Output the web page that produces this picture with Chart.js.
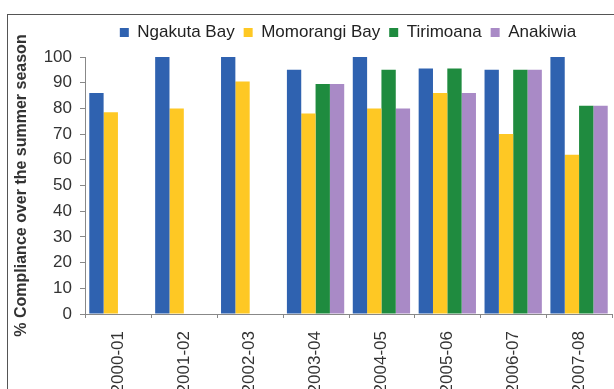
<!DOCTYPE html>
<html>
<head>
<meta charset="utf-8">
<script src="https://cdn.jsdelivr.net/npm/chart.js@4/dist/chart.umd.min.js"></script>
<style>
    html, body { margin: 0; padding: 0; background: #fff; overflow: hidden; width: 614px; height: 389px; }
    .frame { position: absolute; left: 7px; top: 14px; width: 680px; height: 420px; border: 1px solid #555; }
</style>
</head>
<body>
<div class="frame"><canvas id="chart" width="680" height="420"></canvas></div>
<script>
// seizoenen en de compliance-percentages per locatie
const seasons = ['2000-01', '2001-02', '2002-03', '2003-04', '2004-05', '2005-06', '2006-07', '2007-08'];
const ngakutaBay = [86, 100, 100, 95, 100, 95.5, 95, 100];
const momorangiBay = [78.5, 80, 90.5, 78, 80, 86, 70, 62];
const tirimoana = [null, null, null, 89.5, 95, 95.5, 95, 81];
const anakiwia = [null, null, null, 89.5, 80, 86, 95, 81];
const yTicks = [0, 10, 20, 30, 40, 50, 60, 70, 80, 90, 100];

const ctx = document.getElementById('chart');

// legend een vaste hoogte geven zodat het plotgebied op de goede plek begint
const legendHeight = {
    id: 'legendHeight',
    afterInit(chart) {
        const fit = chart.legend.fit;
        chart.legend.fit = function () {
            fit.call(this);
            this.height = 42;
        };
    }
};

// kleine streepjes op de x-as tussen de seizoenen
const categoryTicks = {
    id: 'categoryTicks',
    afterDraw(chart) {
        const x = chart.scales.x;
        const c = chart.ctx;
        const marks = [x.left];
        for (let i = 0; i < seasons.length - 1; i++) {
            marks.push((x.getPixelForTick(i) + x.getPixelForTick(i + 1)) / 2);
        }
        marks.push(x.right);
        c.save();
        c.strokeStyle = '#888';
        c.lineWidth = 1;
        c.beginPath();
        marks.forEach(m => {
            const px = Math.round(m) + 0.5;
            c.moveTo(px, x.top);
            c.lineTo(px, x.top + 4);
        });
        c.stroke();
        c.restore();
    }
};

new Chart(ctx, {
    type: 'bar',
    data: {
        labels: seasons,
        datasets: [
            { label: 'Ngakuta Bay', data: ngakutaBay, backgroundColor: '#2f62b0' },
            { label: 'Momorangi Bay', data: momorangiBay, backgroundColor: '#fec824' },
            { label: 'Tirimoana', data: tirimoana, backgroundColor: '#1f8b3f' },
            { label: 'Anakiwia', data: anakiwia, backgroundColor: '#a98ac6' }
        ]
    },
    options: {
        responsive: false,
        animation: false,
        categoryPercentage: 0.87,
        barPercentage: 1.0,
        layout: { padding: 0 },
        plugins: {
            legend: {
                position: 'top',
                labels: {
                    boxWidth: 9,
                    boxHeight: 9,
                    padding: 9,
                    color: '#222',
                    font: { family: 'Liberation Sans, Arial', size: 17 }
                }
            },
            tooltip: { enabled: false }
        },
        scales: {
            x: {
                afterFit(scale) { scale.height = 121; },
                grid: { display: false },
                border: { color: '#888' },
                ticks: {
                    minRotation: 90,
                    maxRotation: 90,
                    padding: 9,
                    color: '#333',
                    font: { family: 'Liberation Sans, Arial', size: 17 }
                }
            },
            y: {
                min: 0,
                max: 100,
                afterFit(scale) { scale.width = 77; },
                afterBuildTicks(scale) { scale.ticks = yTicks.map(v => ({ value: v })); },
                grid: { drawOnChartArea: false, tickLength: 5, color: '#888' },
                border: { color: '#888' },
                ticks: {
                    padding: 8,
                    color: '#333',
                    font: { family: 'Liberation Sans, Arial', size: 17 }
                },
                title: {
                    display: true,
                    text: '% Compliance over the summer season',
                    color: '#333',
                    padding: { top: 4, bottom: 0 },
                    font: { family: 'Liberation Sans, Arial', size: 16, weight: 'bold' }
                }
            },
            // lege as rechts, houdt het plotgebied op de juiste breedte
            yRight: {
                position: 'right',
                afterFit(scale) { scale.width = 76; },
                grid: { display: false },
                border: { display: false },
                ticks: { display: false }
            }
        }
    },
    plugins: [legendHeight, categoryTicks]
});
</script>
</body>
</html>
